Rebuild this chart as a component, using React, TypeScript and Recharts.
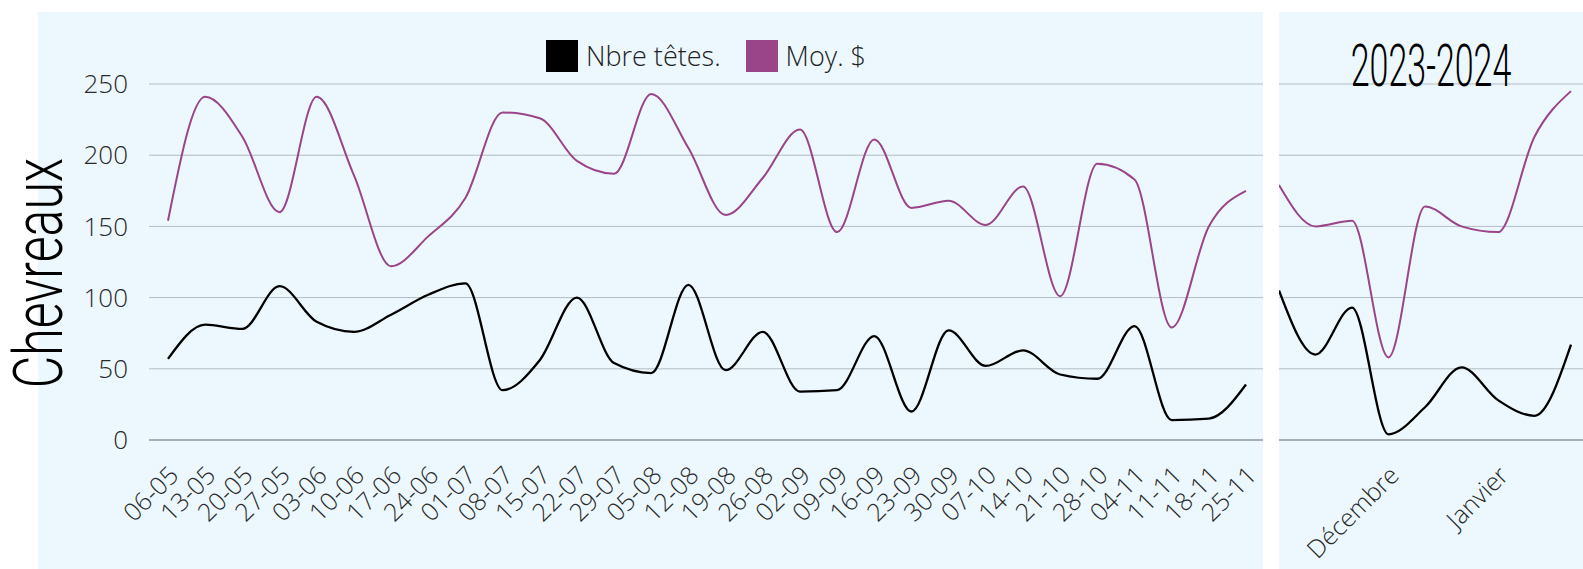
import React from 'react';
import { LineChart, Line, XAxis, YAxis, CartesianGrid, Legend } from 'recharts';

// weekly auction, May -> November
const leftWeeks = [
  '06-05', '13-05', '20-05', '27-05', '03-06', '10-06', '17-06', '24-06', '01-07', '08-07',
  '15-07', '22-07', '29-07', '05-08', '12-08', '19-08', '26-08', '02-09', '09-09', '16-09',
  '23-09', '30-09', '07-10', '14-10', '21-10', '28-10', '04-11', '11-11', '18-11', '25-11',
];
const leftTetes = [57, 81, 78, 108, 83, 76, 88, 102, 110, 35, 56, 100, 54, 47, 109, 49, 76, 34, 35, 73, 20, 77, 52, 63, 46, 43, 80, 14, 15, 39];
const leftMoy = [154, 241, 213, 160, 241, 186, 122, 143, 170, 230, 226, 196, 187, 243, 205, 158, 184, 218, 146, 211, 163, 168, 151, 178, 101, 194, 183, 79, 150, 175];

// 2023-2024 season, only month names are labelled
const rightLabels = ['', '', '', 'Décembre', '', '', 'Janvier', '', ''];
const rightTetes = [105, 60, 93, 4, 23, 51, 28, 17, 67];
const rightMoy = [179, 150, 154, 58, 164, 150, 146, 213, 245];

const yTicks = [0, 50, 100, 150, 200, 250];

const BLACK = '#000000';
const PURPLE = '#9a4489';
const PANEL = '#ecf8fe';
const GRID = '#b4bcc4';
const FONT = '"Open Sans", sans-serif';
const HAND = '"Roboto", "Inter", sans-serif';

const series = [
  { key: 'tetes', name: 'Nbre têtes.', color: BLACK, width: 2.3 },
  { key: 'moy', name: 'Moy. $', color: PURPLE, width: 2 },
];

const leftData = leftWeeks.map((w, i) => ({ week: w, tetes: leftTetes[i], moy: leftMoy[i] }));
const rightData = rightLabels.map((m, i) => ({ idx: i, tetes: rightTetes[i], moy: rightMoy[i] }));

const SlantTick = ({ x, y, payload, labels }: any) => {
  const text = labels ? labels[payload.value] : payload.value;
  if (!text) return <g />;
  return (
    <g transform={`translate(${x + 12},${y + 37})`}>
      <text textAnchor="end" transform="rotate(-45)" fontFamily={FONT} fontWeight={300} fontSize={25} fill="#2a2a2a">
        {text}
      </text>
    </g>
  );
};

const LegendBox = () => (
  <div style={{ display: 'flex', justifyContent: 'center', alignItems: 'center', gap: 25, fontFamily: FONT, fontWeight: 300, fontSize: 27, color: '#222' }}>
    {series.map((s) => (
      <div key={s.key} style={{ display: 'flex', alignItems: 'center' }}>
        <span style={{ display: 'inline-block', width: 32, height: 32, background: s.color, marginRight: 8 }} />
        {s.name}
      </div>
    ))}
  </div>
);

const lines = () =>
  series.map((s) => (
    <Line
      key={s.key}
      type="monotone"
      dataKey={s.key}
      name={s.name}
      stroke={s.color}
      strokeWidth={s.width}
      dot={false}
      activeDot={false}
      isAnimationActive={false}
    />
  ));

export default function App() {
  return (
    <div style={{ position: 'absolute', left: 0, top: 0, width: 1583, height: 569, background: '#fff', overflow: 'hidden' }}>
      <div style={{ position: 'absolute', left: 38, top: 12, background: PANEL }}>
        <LineChart width={1225} height={557} data={leftData} margin={{ top: 72, right: 0, left: 0, bottom: 0 }}>
          <CartesianGrid vertical={false} stroke={GRID} />
          <XAxis
            dataKey="week"
            interval={0}
            height={129}
            padding={{ left: 19, right: 17 }}
            tickSize={0}
            tickMargin={0}
            tickLine={false}
            axisLine={{ stroke: '#9aa0a6', strokeWidth: 1.5 }}
            tick={<SlantTick />}
          />
          <YAxis
            width={111}
            domain={[0, 250]}
            ticks={yTicks}
            tickLine={false}
            axisLine={false}
            tickMargin={15}
            tick={{ fontFamily: FONT, fontWeight: 300, fontSize: 26, fill: '#2a2a2a' }}
          />
          <Legend
            verticalAlign="middle"
            align="center"
            content={<LegendBox />}
            wrapperStyle={{ top: 25, left: 111, width: 1114 }}
          />
          {lines()}
        </LineChart>
      </div>
      <div style={{ position: 'absolute', left: 1279, top: 12, background: PANEL }}>
        <LineChart width={304} height={557} data={rightData} margin={{ top: 72, right: 0, left: 0, bottom: 0 }}>
          <CartesianGrid vertical={false} stroke={GRID} />
          <XAxis
            dataKey="idx"
            interval={0}
            height={129}
            padding={{ left: 0, right: 12 }}
            tickSize={0}
            tickMargin={0}
            tickLine={false}
            axisLine={{ stroke: '#9aa0a6', strokeWidth: 1.5 }}
            tick={<SlantTick labels={rightLabels} />}
          />
          <YAxis hide domain={[0, 250]} ticks={yTicks} />
          {lines()}
        </LineChart>
      </div>
      <svg width={1583} height={569} style={{ position: 'absolute', left: 0, top: 0, pointerEvents: 'none' }}>
        {/* tall, narrow lettering like the hand-drawn titles */}
        <text
          transform="translate(62 273) rotate(-90) scale(1 1.38)"
          textAnchor="middle"
          fontFamily={HAND}
          fontWeight={300}
          fontSize={50}
          fill="#000"
        >
          Chevreaux
        </text>
        <text
          transform="translate(1431 86) scale(1 1.72)"
          textAnchor="middle"
          fontFamily={HAND}
          fontWeight={300}
          fontSize={34}
          fill="#000"
        >
          2023-2024
        </text>
      </svg>
    </div>
  );
}
